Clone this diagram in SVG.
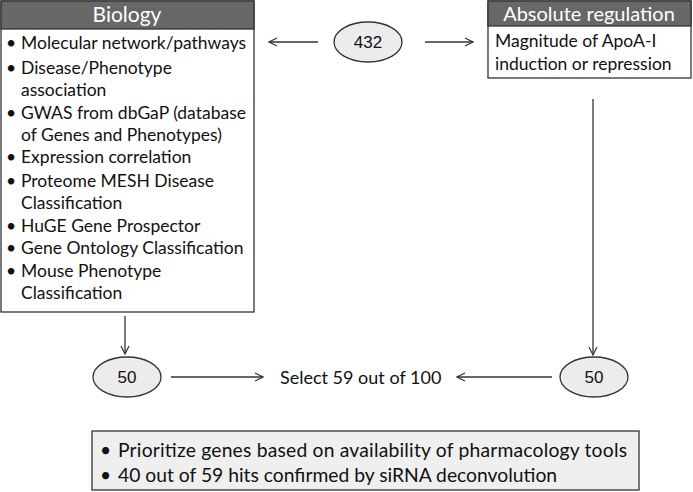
<svg xmlns="http://www.w3.org/2000/svg" width="693" height="492" viewBox="0 0 693 492">
<defs>
<marker id="ah" viewBox="0 0 10 10" refX="9" refY="5" markerWidth="10" markerHeight="10" markerUnits="userSpaceOnUse" orient="auto">
<path d="M1,1 L9,5 L1,9" fill="none" stroke="#333" stroke-width="1.2"/>
</marker>
<style>
.box{fill:#fff;stroke:#333;stroke-width:1.3}
.hdr{fill:#676767;stroke:#333;stroke-width:1.3}
.ht{font-family:Lato,"Open Sans",sans-serif;font-size:20px;fill:#fff;text-anchor:middle}
.t{font-family:Lato,"Open Sans",sans-serif;font-size:17.5px;fill:#111}
.el{fill:#ececec;stroke:#333;stroke-width:1.3}
.et{font-family:"Liberation Sans",Arial,sans-serif;font-size:17px;fill:#111;text-anchor:middle}
.c{stroke:#333;stroke-width:1.3;fill:none;marker-end:url(#ah)}
.bt{fill:#efefef;stroke:#333;stroke-width:1.3}
</style>
</defs>
<rect width="693" height="492" fill="#fff"/>
<g id="biology">
<rect class="box" x="1" y="1" width="253" height="311"/>
<rect class="hdr" x="1" y="1" width="253" height="28"/>
<text class="ht" x="127" y="22" style="font-size:21px">Biology</text>
<g class="t">
<text x="6" y="49">•</text><text x="21" y="49">Molecular network/pathways</text>
<text x="6" y="74">•</text><text x="21" y="74">Disease/Phenotype</text>
<text x="21" y="96">association</text>
<text x="6" y="119">•</text><text x="21" y="119">GWAS from dbGaP (database</text>
<text x="21" y="141">of Genes and Phenotypes)</text>
<text x="6" y="163">•</text><text x="21" y="163">Expression correlation</text>
<text x="6" y="187">•</text><text x="21" y="187">Proteome MESH Disease</text>
<text x="21" y="209">Classification</text>
<text x="6" y="232">•</text><text x="21" y="232">HuGE Gene Prospector</text>
<text x="6" y="254">•</text><text x="21" y="254">Gene Ontology Classification</text>
<text x="6" y="277">•</text><text x="21" y="277">Mouse Phenotype</text>
<text x="21" y="299">Classification</text>
</g>
</g>
<g id="absolute">
<rect class="box" x="488" y="1" width="203" height="77"/>
<rect class="hdr" x="488" y="1" width="203" height="25"/>
<text class="ht" x="589" y="21">Absolute regulation</text>
<text class="t" x="495" y="47">Magnitude of ApoA-I</text>
<text class="t" x="495" y="70">induction or repression</text>
</g>
<g id="n432">
<ellipse class="el" cx="368" cy="42" rx="34" ry="20"/>
<text class="et" x="368" y="48">432</text>
</g>
<g id="n50a">
<ellipse class="el" cx="127" cy="377" rx="34" ry="20"/>
<text class="et" x="127" y="383">50</text>
</g>
<g id="n50b">
<ellipse class="el" cx="594" cy="377" rx="34" ry="20"/>
<text class="et" x="594" y="383">50</text>
</g>
<g id="select">
<text class="t" x="280" y="384" style="font-size:18px">Select 59 out of 100</text>
</g>
<g id="summary">
<rect class="bt" x="92" y="431" width="547" height="59"/>
<g class="t" style="font-size:19.3px">
<text x="100" y="457">•</text><text x="118" y="457" textLength="509" lengthAdjust="spacing">Prioritize genes based on availability of pharmacology tools</text>
<text x="100" y="482">•</text><text x="118" y="482">40 out of 59 hits confirmed by siRNA deconvolution</text>
</g>
</g>
<g id="connectors">
<line class="c" x1="318" y1="42" x2="269" y2="42"/>
<line class="c" x1="425" y1="42" x2="473" y2="42"/>
<line class="c" x1="125" y1="316" x2="125" y2="354"/>
<line class="c" x1="593" y1="99" x2="593" y2="355"/>
<line class="c" x1="171" y1="377" x2="263" y2="377"/>
<line class="c" x1="552" y1="377" x2="457" y2="377"/>
</g>
</svg>
